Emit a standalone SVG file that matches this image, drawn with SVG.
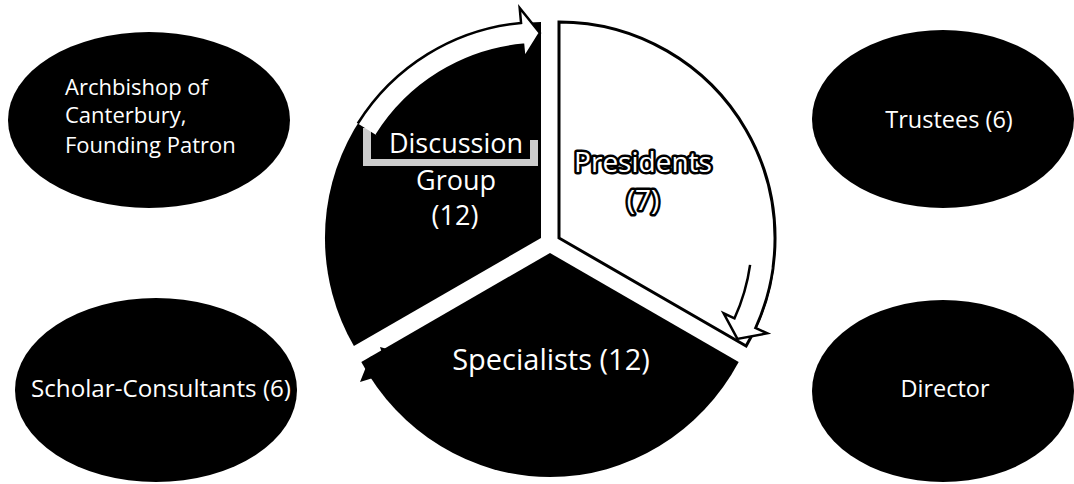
<svg xmlns="http://www.w3.org/2000/svg" width="1074" height="484" viewBox="0 0 1074 484">
<style>
.blob{fill:#000}
.t{font-family:"Open Sans","Liberation Sans",sans-serif;fill:#fff}
.s{font-size:23.5px;text-anchor:middle}
.c{font-size:27px;text-anchor:middle}
.o{stroke:#000;stroke-width:4;paint-order:stroke;stroke-linejoin:round}
.po{stroke:#000;stroke-width:5;paint-order:stroke;stroke-linejoin:round}
</style>
<rect width="1074" height="484" fill="#fff"/>
<g id="node-archbishop">
<ellipse class="blob" cx="149" cy="120" rx="141" ry="88"/>
<text class="t" font-size="22"><tspan x="65" y="95">Archbishop of</tspan><tspan x="65" y="123">Canterbury,</tspan><tspan x="65" y="153">Founding Patron</tspan></text>
</g>
<g id="node-scholars">
<ellipse class="blob" cx="156" cy="390" rx="141" ry="92"/>
<text class="t" font-size="24.2" text-anchor="middle" x="161" y="397">Scholar-Consultants (6)</text>
</g>
<g id="node-trustees">
<ellipse class="blob" cx="943" cy="119" rx="131" ry="89"/>
<text class="t s" x="949" y="128">Trustees (6)</text>
</g>
<g id="node-director">
<ellipse class="blob" cx="943" cy="391" rx="131" ry="91"/>
<text class="t s" x="945" y="397">Director</text>
</g>
<g id="node-discussion">
<path class="blob" d="M541,238 L541,22 A216,216 0 0 0 353.9,346 Z"/>
<path d="M363,128 H371 V159 H530 V140 H538 V166 H363 Z" fill="#fff" fill-opacity="0.8"/>
<text class="t c"><tspan class="o" x="456" y="153">Discussion</tspan><tspan x="456" y="190">Group</tspan><tspan x="455" y="225">(12)</tspan></text>
</g>
<g id="node-presidents">
<path d="M559,238 L559,22 A216,216 0 0 1 746.1,346 Z" fill="#fff" stroke="#000" stroke-width="3" stroke-linejoin="miter"/>
<text class="t po" font-size="28" text-anchor="middle"><tspan x="643" y="172">Presidents</tspan><tspan x="643" y="210">(7)</tspan></text>
</g>
<g id="node-specialists">
<path class="blob" d="M550,253 L738.7,362 A216,224 0 0 1 361.3,362 Z"/>
<path class="blob" d="M380,347 L382,353 L370,357 L360,382 L373,378 L392,372 L398,352 Z"/>
<text class="t" font-size="29" text-anchor="middle" x="551" y="370">Specialists (12)</text>
</g>
<g id="connectors">
<path d="M357.8,123.5 A216,216 0 0 1 521.05,22.9 L519.7,8 L539.9,33 L524.3,57.8 L523.1,44.8 A194,194 0 0 0 376.5,135.2 Z" fill="#fff"/>
<path d="M376.5,135.2 A194,194 0 0 1 523.1,44.8 L524.3,57.8 L539.9,33 L519.7,8 L521.05,22.9 A216,216 0 0 0 357.8,123.5" fill="none" stroke="#000" stroke-width="2.5" stroke-linejoin="miter"/>
<path d="M772.9,268.1 A216,216 0 0 1 755.4,327.9 L767.2,333.3 L737.4,338.9 L723.6,313.3 L734.5,318.3 A193,193 0 0 0 750.1,264.9 Z" fill="#fff"/>
<path d="M750.1,264.9 A193,193 0 0 1 734.5,318.3 L723.6,313.3 L737.4,338.9 L767.2,333.3 L755.4,327.9 A216,216 0 0 0 772.9,268.1" fill="none" stroke="#000" stroke-width="2.5" stroke-linejoin="miter"/>
</g>
</svg>
